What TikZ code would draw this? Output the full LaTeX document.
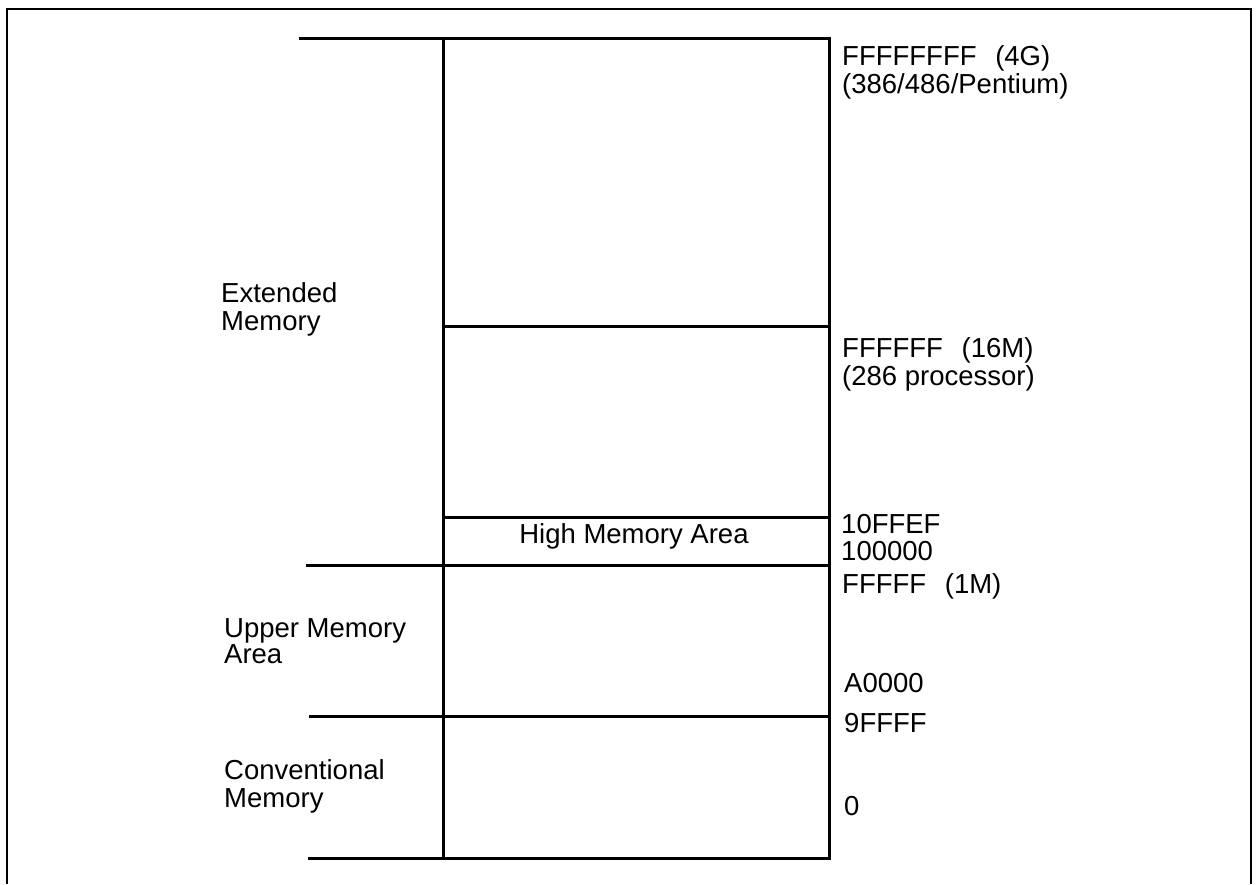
\documentclass[tikz,border=0pt]{standalone}
\usepackage{fontspec}
\setmainfont{Liberation Sans}
\begin{document}
\begin{tikzpicture}[x=1pt,y=-1pt,
  rule/.style={line width=3pt,line cap=rect},
  lbl/.style={anchor=base west,inner sep=0pt,font=\fontsize{27.5}{30}\selectfont},
  ctr/.style={anchor=base,inner sep=0pt,font=\fontsize{27.5}{30}\selectfont}]
\useasboundingbox (0,0) rectangle (1257,884);
% outer frame (open at bottom)
\coordinate (fbl) at (7,884);
\coordinate (ftl) at (7,9);
\coordinate (ftr) at (1251,9);
\coordinate (fbr) at (1251,884);
\draw[line width=2.8pt] (fbl) -- (ftl) -- (ftr) -- (fbr);
% memory column
\coordinate (t0) at (300,38);  \coordinate (tl) at (443,38); \coordinate (tr) at (829,38);
\coordinate (al) at (443,326); \coordinate (ar) at (829,326);
\coordinate (hl) at (443,517); \coordinate (hr) at (829,517);
\coordinate (m0) at (307,565); \coordinate (ml) at (443,565); \coordinate (mr) at (829,565);
\coordinate (c0) at (310,716); \coordinate (cr) at (829,716);
\coordinate (b0) at (309,858); \coordinate (bl) at (443,858); \coordinate (br) at (829,858);
\draw[rule] (t0) -- (tr);
\draw[rule] (tl) -- (bl);
\draw[rule] (tr) -- (br);
\draw[rule] (al) -- (ar);
\draw[rule] (hl) -- (hr);
\draw[rule] (m0) -- (mr);
\draw[rule] (c0) -- (cr);
\draw[rule] (b0) -- (br);
% labels right
\node[lbl] (a1) at (842,65) {FFFFFFFF\hspace{0.4em} (4G)};
\node[lbl] (a2) at (842,93) {(386/486/Pentium)};
\node[lbl] (a3) at (842,357) {FFFFFF\hspace{0.4em} (16M)};
\node[lbl] (a4) at (842,385) {(286 processor)};
\node[lbl] (a5) at (841,533) {10FFEF};
\node[lbl] (a6) at (841,560) {100000};
\node[lbl] (a7) at (842,593) {FFFFF\hspace{0.4em} (1M)};
\node[lbl] (a8) at (844,692) {A0000};
\node[lbl] (a9) at (844,732) {9FFFF};
\node[lbl] (a10) at (844,815) {0};
% labels left
\node[lbl] (e1) at (221,302) {Extended};
\node[lbl] (e2) at (221,330) {Memory};
\node[lbl] (u1) at (224,637) {Upper Memory};
\node[lbl] (u2) at (224,663) {Area};
\node[lbl] (c1) at (224,779) {Conventional};
\node[lbl] (c2) at (224,807) {Memory};
\node[ctr] (hma) at (634,543) {High Memory Area};
\end{tikzpicture}
\end{document}
